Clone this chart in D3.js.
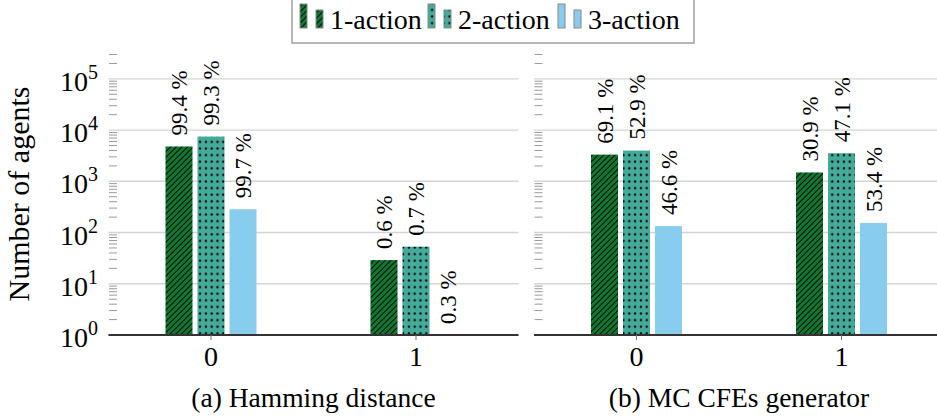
<!DOCTYPE html>
<html>
<head>
<meta charset="utf-8">
<script src="https://cdn.jsdelivr.net/npm/d3@7"></script>
<style>
  body { margin: 0; background: #fff; }
  svg text { font-family: "Liberation Serif", "DejaVu Serif", "Times New Roman", Tinos, "Noto Serif", serif; }
</style>
</head>
<body>
<div id="vis"></div>
<script>
// data
var groups = [0, 1];
var series = ["1-action", "2-action", "3-action"];
// counts per series, per group (log scale)
var hammingCounts = [[4790, 29], [7470, 53], [285, 1]];
var hammingPct = [["99.4 %", "0.6 %"], ["99.3 %", "0.7 %"], ["99.7 %", "0.3 %"]];
var mcCounts = [[3320, 1490], [3980, 3540], [134, 154]];
var mcPct = [["69.1 %", "30.9 %"], ["52.9 %", "47.1 %"], ["46.6 %", "53.4 %"]];
var captions = ["(a) Hamming distance", "(b) MC CFEs generator"];
var yTickPowers = [0, 1, 2, 3, 4, 5];

var w = 937;
var h = 419;

var svg = d3.select("#vis")
  .append("svg")
  .attr("width", w)
  .attr("height", h)
  .attr("font-family", "'Liberation Serif', 'DejaVu Serif', serif");

var defs = svg.append("defs");
var colors = ["#117733", "#44aa99", "#88ccee"];

// north east lines for 1-action
var hatch = defs.append("pattern")
  .attr("id", "hatch")
  .attr("patternUnits", "userSpaceOnUse")
  .attr("width", 4).attr("height", 4)
  .attr("patternTransform", "rotate(45)");
hatch.append("rect").attr("width", 4).attr("height", 4).attr("fill", colors[0]);
hatch.append("line").attr("x1", 0.5).attr("y1", 0).attr("x2", 0.5).attr("y2", 4)
  .attr("stroke", "#000").attr("stroke-width", 0.9);

// dots for 2-action
var dots = defs.append("pattern")
  .attr("id", "dots")
  .attr("patternUnits", "userSpaceOnUse")
  .attr("width", 5.8).attr("height", 6.6);
dots.append("rect").attr("width", 5.8).attr("height", 6.6).attr("fill", colors[1]);
dots.append("circle").attr("cx", 2.9).attr("cy", 3.3).attr("r", 1.15).attr("fill", "#000");

var fills = ["url(#hatch)", "url(#dots)", colors[2]];

var y = d3.scaleLog()
  .domain([1, 3.5e5])
  .range([335, 51]);

var xInner = d3.scaleBand()
  .domain(series)
  .range([-45.5, 45.5])
  .paddingInner(5 / 32);

var panels = [
  { left: 108.5, right: 518.5, counts: hammingCounts, pct: hammingPct, caption: captions[0], labels: true },
  { left: 534, right: 944, counts: mcCounts, pct: mcPct, caption: captions[1], labels: false }
];

var minorTicks = y.ticks().filter(function(v) {
  var l = Math.log10(v);
  return Math.abs(l - Math.round(l)) > 1e-9;
});

panels.forEach(function(p) {
  var x = d3.scaleLinear().domain([-0.5, 1.5]).range([p.left, p.right]);
  var g = svg.append("g");

  // grid
  g.selectAll(".grid")
    .data(yTickPowers)
    .enter().append("line")
    .attr("x1", p.left).attr("x2", Math.min(p.right, w))
    .attr("y1", function(d) { return y(Math.pow(10, d)); })
    .attr("y2", function(d) { return y(Math.pow(10, d)); })
    .attr("stroke", "#d4d4d4")
    .attr("stroke-width", 1.4);

  // minor ticks
  g.selectAll(".minor")
    .data(minorTicks)
    .enter().append("line")
    .attr("x1", p.left + 0.5).attr("x2", p.left + 8.5)
    .attr("y1", function(d) { return y(d); })
    .attr("y2", function(d) { return y(d); })
    .attr("stroke", "#9a9a9a")
    .attr("stroke-width", 1);

  // bars
  series.forEach(function(s, si) {
    g.selectAll(".bar" + si)
      .data(groups)
      .enter().append("rect")
      .attr("x", function(d) { return x(d) + xInner(s); })
      .attr("width", xInner.bandwidth())
      .attr("y", function(d) { return y(p.counts[si][d]); })
      .attr("height", function(d) { return y(1) - y(p.counts[si][d]); })
      .attr("fill", fills[si]);

    g.selectAll(".lab" + si)
      .data(groups)
      .enter().append("text")
      .attr("transform", function(d) {
        var cx = x(d) + xInner(s) + xInner.bandwidth() / 2 + 8;
        var cy = y(p.counts[si][d]) - 11;
        return "translate(" + cx + "," + cy + ") rotate(-90)";
      })
      .attr("font-size", 23)
      .attr("fill", "#000")
      .text(function(d) { return p.pct[si][d]; });
  });

  // bottom axis line
  g.append("line")
    .attr("x1", p.left).attr("x2", Math.min(p.right, w))
    .attr("y1", y(1)).attr("y2", y(1))
    .attr("stroke", "#333")
    .attr("stroke-width", 2);

  g.selectAll(".xtick")
    .data(groups)
    .enter().append("line")
    .attr("x1", function(d) { return x(d); })
    .attr("x2", function(d) { return x(d); })
    .attr("y1", y(1)).attr("y2", y(1) + 5)
    .attr("stroke", "#777");

  g.selectAll(".xlab")
    .data(groups)
    .enter().append("text")
    .attr("x", function(d) { return x(d); })
    .attr("y", 366)
    .attr("text-anchor", "middle")
    .attr("font-size", 28)
    .text(function(d) { return d; });

  g.append("text")
    .attr("x", (p.left + p.right) / 2)
    .attr("y", 407)
    .attr("text-anchor", "middle")
    .attr("font-size", 27.5)
    .text(p.caption);

  if (p.labels) {
    var yl = g.selectAll(".ylab")
      .data(yTickPowers)
      .enter().append("text")
      .attr("x", 98)
      .attr("y", function(d) { return y(Math.pow(10, d)) + 12; })
      .attr("text-anchor", "end")
      .attr("font-size", 28);
    yl.append("tspan").text("10");
    yl.append("tspan")
      .attr("dy", -12)
      .attr("font-size", 20)
      .text(function(d) { return d; });
  }
});

// y axis title
svg.append("text")
  .attr("transform", "translate(29,194) rotate(-90)")
  .attr("text-anchor", "middle")
  .attr("font-size", 30)
  .text("Number of agents");

// legend
var legend = svg.append("g");
legend.append("rect")
  .attr("x", 292).attr("y", -2)
  .attr("width", 402).attr("height", 45)
  .attr("fill", "#fff")
  .attr("stroke", "#a0a0a0")
  .attr("stroke-width", 1.5);

var legendX = [300, 428, 558];
series.forEach(function(s, si) {
  var lx = legendX[si];
  legend.append("rect")
    .attr("x", lx).attr("y", 4)
    .attr("width", 7).attr("height", 24)
    .attr("fill", fills[si])
    .attr("stroke", "#888").attr("stroke-width", 1);
  legend.append("rect")
    .attr("x", lx + 16).attr("y", 10)
    .attr("width", 7).attr("height", 18)
    .attr("fill", fills[si])
    .attr("stroke", "#888").attr("stroke-width", 1);
  legend.append("text")
    .attr("x", lx + 30).attr("y", 29)
    .attr("font-size", 28)
    .text(s);
});
</script>
</body>
</html>
